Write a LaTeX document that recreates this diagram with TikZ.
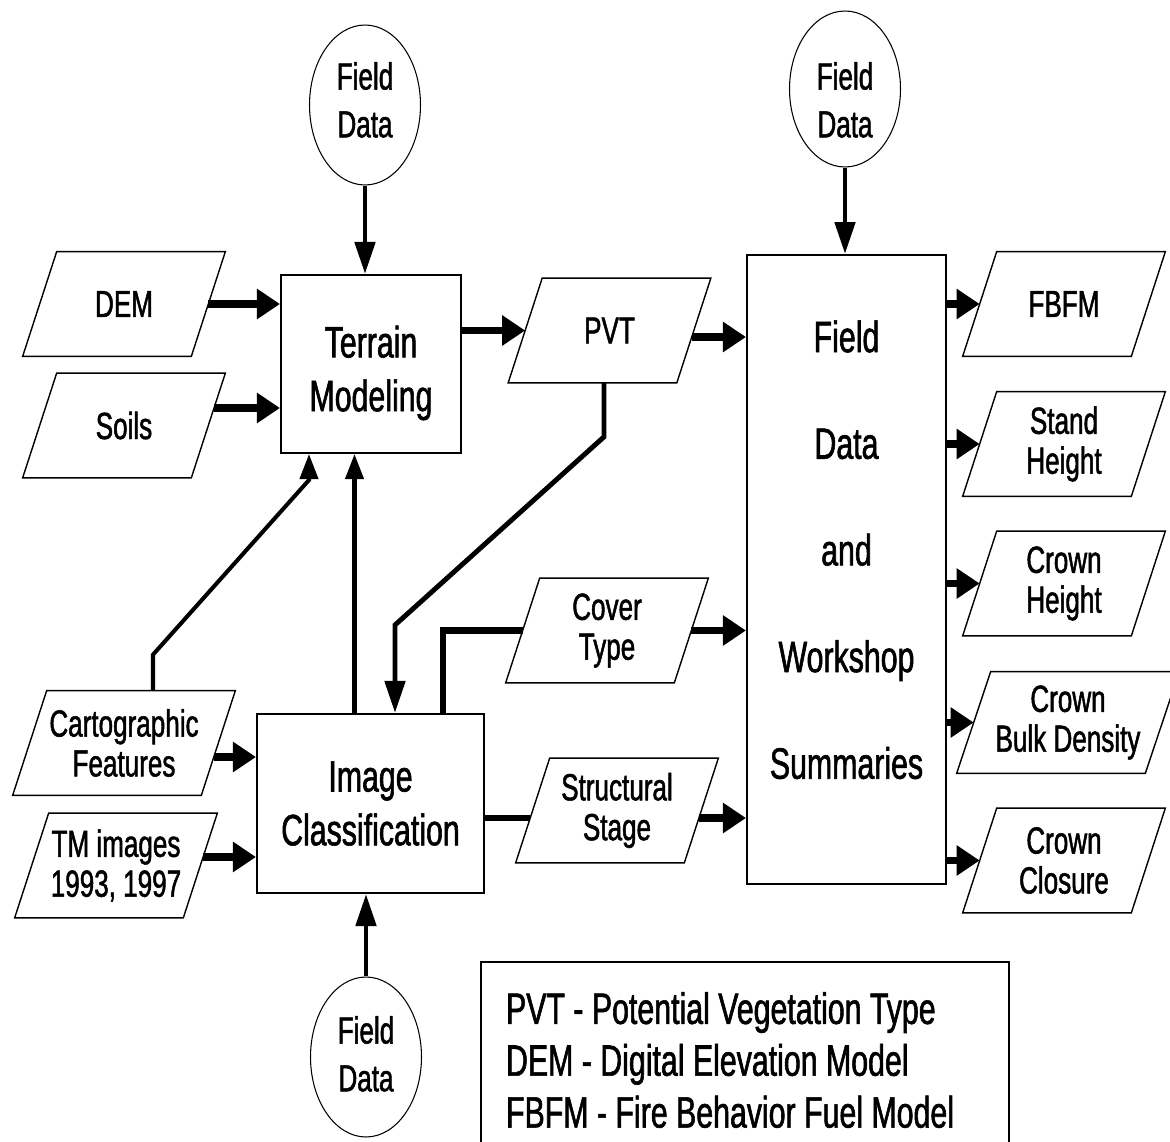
\documentclass[tikz,border=0pt]{standalone}
\usepackage{fontspec}
\setmainfont{Liberation Sans}[FakeStretch=0.69, FakeBold=1.3]
\usetikzlibrary{shapes.geometric, arrows.meta, calc}
\tikzstyle{process} = [rectangle, draw, line width=1.2pt, inner sep=0, align=center, font=\fontsize{25}{30.6}\selectfont]
\tikzstyle{data} = [rectangle, minimum width=3.36cm, minimum height=2.08cm, inner sep=0, align=center, font=\fontsize{21.5}{22.7}\selectfont]
\tikzstyle{outline} = [line width=0.8pt, line join=miter]
\tikzstyle{field} = [ellipse, draw, line width=0.6pt, minimum width=2.22cm, minimum height=3.2cm, inner sep=0, align=center, font=\fontsize{21.5}{27.2}\selectfont]
\tikzstyle{legend} = [rectangle, draw, line width=1.2pt, minimum width=10.56cm, minimum height=3.92cm, text width=9.56cm, inner xsep=0.5cm, align=flush left, font=\fontsize{25}{29.5}\selectfont]
\tikzstyle{arrow} = [line width=4pt, -{Triangle[length=0.46cm,width=0.58cm]}]
\tikzstyle{varrow} = [line width=2.8pt, -{Triangle[length=0.64cm,width=0.4cm]}]
\tikzstyle{sarrow} = [line width=2.3pt, -{Triangle[length=0.5cm,width=0.36cm]}]
\tikzstyle{link} = [line width=3.6pt]

\begin{document}
\begin{tikzpicture}[x=0.02cm, y=-0.02cm]
\useasboundingbox (0,0) rectangle (1170,1142);

\node[field, text height=1.3cm] (fieldA) at (365,105) {Field\\Data};
\node[field, minimum height=3.12cm, text height=1.94cm] (fieldB) at (845,89) {Field\\Data};
\node[field, text height=1.38cm] (fieldC) at (366,1057) {Field\\Data};

\node[process, minimum width=3.6cm, minimum height=3.56cm, text height=2.07cm] (terrain) at (371,364) {Terrain\\Modeling};
\node[process, minimum width=4.54cm, minimum height=3.58cm] (image) at (370.5,803.5) {Image\\Classification};
\node[process, minimum width=3.98cm, minimum height=12.58cm, text depth=0.8cm, font=\fontsize{25}{60.7}\selectfont] (summary) at (846.5,569.5) {Field\\Data\\and\\Workshop\\Summaries};

% inputs
\node[data] (dem) at (124,304) {DEM};
\node[data] (soils) at (124,425.5) {Soils};
\node[data, minimum width=3.76cm] (carto) at (124,743) {Cartographic\\Features};
\node[data] (tm) at (116,865.5) {TM images\\1993, 1997};
\node[data] (pvt) at (609.5,330.5) {PVT};
\node[data] (cover) at (607,630.5) {Cover\\Type};
\node[data] (struct) at (617,810.5) {Structural\\Stage};

% outputs
\foreach \name/\y/\txt in {fbfm/304/FBFM, stand/444/Stand\\Height, crownh/583.5/Crown\\Height, closure/860.5/Crown\\Closure}
	\node[data] (\name) at (1064,\y) {\txt};
\node[data, minimum width=3.76cm, minimum height=2.02cm] (bulk) at (1068,722.5) {Crown\\Bulk Density};

\foreach \n in {dem,soils,carto,tm,pvt,cover,struct,fbfm,stand,crownh,bulk,closure}
	\draw[outline] ($(\n.north west)+(17,0)$) -- ($(\n.north east)+(17,0)$) -- ($(\n.south east)+(-17,0)$) -- ($(\n.south west)+(-17,0)$) -- cycle;

\node[legend] (key) at (745,1060) {PVT - Potential Vegetation Type\\DEM - Digital Elevation Model\\FBFM - Fire Behavior Fuel Model};

\draw[varrow] (fieldA.south) -- (fieldA.south |- terrain.north);
\draw[varrow] (fieldB.south) -- (fieldB.south |- summary.north);
\draw[varrow] (fieldC.north) -- (fieldC.north |- image.south);

\coordinate (soilsout) at ($(soils.east)+(5.7,-17.5)$);
\coordinate (pvtout) at ($(pvt.east)+(-2.1,6.5)$);
\coordinate (cartoout) at ($(carto.east)+(-4.6,14)$);
\coordinate (tmout) at ($(tm.east)+(2.8,-8.5)$);
\coordinate (structin) at ($(struct.west)+(-2.5,7.5)$);
\coordinate (structout) at ($(struct.east)+(-2.5,7.5)$);

\draw[arrow] (dem.east) -- (dem.east -| terrain.west);
\draw[arrow] (soilsout) -- (soilsout -| terrain.west);
\draw[arrow] (pvt.west -| terrain.east) -- (pvt.west);
\draw[arrow] (pvtout) -- (pvtout -| summary.west);
\draw[arrow] (cartoout) -- (cartoout -| image.west);
\draw[arrow] (tmout) -- (tmout -| image.west);
\draw[arrow] (cover.east) -- (cover.east -| summary.west);
\draw[link] (structin -| image.east) -- (structin);
\draw[arrow] (structout) -- (structout -| summary.west);
\foreach \name in {fbfm,stand,crownh,bulk,closure}
	\draw[arrow] (\name.west -| summary.east) -- (\name.west);

\coordinate (imgr) at ($(image.north)+(72.5,0)$);
\draw[link] (imgr) |- (cover.west);

\coordinate (pvtbend) at (395,625);
\draw[varrow] ($(pvt.south)+(-5.5,0)$) -- ++(0,54) -- (pvtbend) -- (pvtbend |- image.north);

\coordinate (imgl) at ($(image.north)+(-16,0)$);
\draw[sarrow] (imgl) -- (imgl |- terrain.south);

\coordinate (cartotop) at ($(carto.north)+(29,0)$);
\coordinate (terrainbend) at (309,480);
\draw[sarrow] (cartotop) -- ++(0,-36) -- (terrainbend) -- (terrainbend |- terrain.south);
\end{tikzpicture}
\end{document}
